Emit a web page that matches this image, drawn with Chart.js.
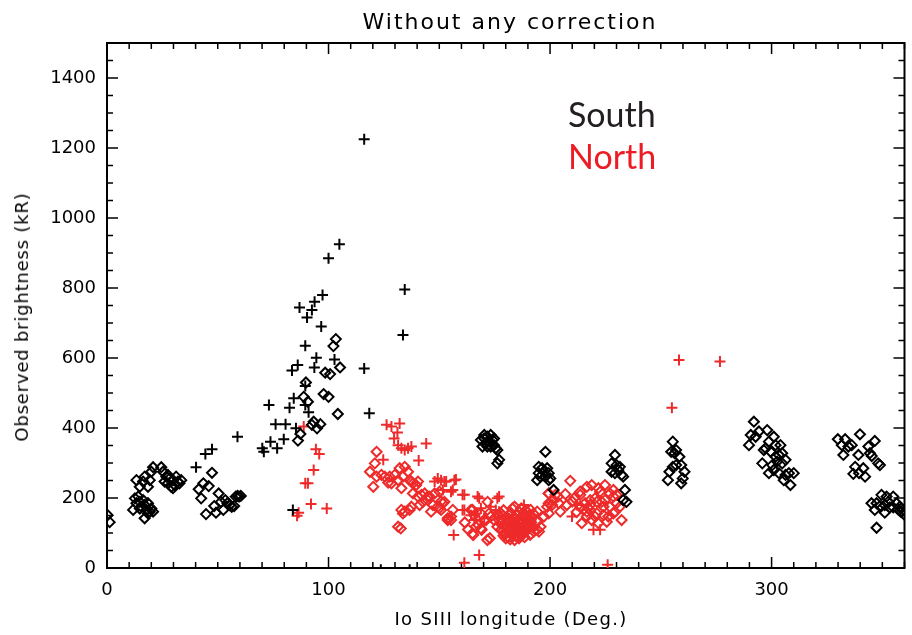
<!DOCTYPE html>
<html><head><meta charset="utf-8">
<script src="https://cdn.jsdelivr.net/npm/chart.js@4/dist/chart.umd.min.js"></script>
<style>
html,body{margin:0;padding:0;background:#fff;}
#wrap{position:relative;width:912px;height:635px;overflow:hidden;}
canvas{position:absolute;left:0;top:0;}
.t{position:absolute;white-space:nowrap;font-family:'DejaVu Sans',sans-serif;color:#000;line-height:1;}
.lg{position:absolute;white-space:nowrap;font-family:Lato,sans-serif;font-size:34px;line-height:34px;}
</style></head><body>
<div id="wrap">
<canvas id="c" width="912" height="635"></canvas>
<div class="t" id="title" style="left:510px;top:22px;transform:translate(-50%,-50%);font-size:22px;letter-spacing:2px;">Without any correction</div>
<div class="t" id="xt" style="left:511px;top:619px;transform:translate(-50%,-50%);font-size:18px;letter-spacing:1.3px;">Io SIII longitude (Deg.)</div>
<div class="t" id="yt" style="left:22px;top:317px;transform:translate(-50%,-50%) rotate(-90deg);font-size:18px;letter-spacing:0.8px;">Observed brightness (kR)</div>
<div class="lg" style="left:568px;top:97px;color:#231F20;">South</div>
<div class="lg" style="left:568px;top:139px;color:#ED1C24;">North</div>
</div>
<script>
// ---- data (Io SIII longitude [deg], observed brightness [kR]) ----
const xTickValues = [0, 100, 200, 300];
const yTickValues = [0, 200, 400, 600, 800, 1000, 1200, 1400];

const southPlus = [
[40.2,288],[44.4,326],[47.4,339],[58.9,375],[70.1,342],[70.8,332],[73.1,466],[73.8,361],[76.1,411],[76.8,342],
[79.8,368],[80.6,411],[82.4,458],[83.5,564],[84.3,485],[85.3,399],[86.1,580],[86.9,744],[89.5,635],[89.5,520],
[89.5,466],[90.3,716],[91,445],[92.5,737],[93.6,573],[93.7,761],[94.5,601],[96.7,690],[97.3,780],[100,885],
[102.7,596],[104.9,925],[116.1,1225],[116.1,570],[118.4,442],[133.6,666],[134.4,796],[83.9,166],[123.6,-5],[136.6,-5]
];

const southDiamond = [
[0.3,151],[1.2,131],
[13.3,251],[14.8,232],[16.3,247],[17,261],[18.5,232],[19.3,251],[20,275],[20.8,288],
[12.6,199],[13.3,185],[14.1,204],[14.8,189],[15.5,175],[16.3,194],[17,180],[17.8,166],[18.5,185],[19.3,161],
[20,170],[20.8,161],[11.8,166],[17,142],[18.5,156],[14.8,170],
[24.5,288],[25.3,275],[26,247],[26.8,261],[27.5,242],[28.3,256],[29,232],[29.8,251],[30.5,237],[31.2,261],
[32,247],[32.7,242],[33.5,251],[27.5,266],[29.8,228],
[47.4,272],[41.4,225],[42.5,199],[43.5,242],[45.9,234],[44.7,154],[48.4,177],[49.2,158],[50.4,213],[51.4,189],
[52.5,166],[53.4,194],[54.4,185],[55.4,180],[56.3,175],[57.4,177],[58.1,204],[58.9,206],[59.6,204],[60.4,206],
[103.3,654],[102.2,634],[105.2,573],[98.5,558],[100.7,554],[89.8,530],[97.8,497],[100,489],[88.8,489],[90.7,475],
[104.2,440],[93.3,418],[92.5,409],[96.3,411],[94.8,399],[87.3,383],[86.2,364],
[170.3,380],[171.7,375],[173.2,380],[174,366],[172.5,361],[171,356],[169.5,347],[168.8,366],[174.7,351],[175.5,342],
[176.2,337],[177,309],[176.2,299],[173.2,347],[171.7,347],[170.3,370],[174.7,370],
[197.9,332],[194.9,289],[196.4,285],[197.2,275],[198.7,285],[199.4,271],[197.9,261],[195.6,261],[194.2,251],[200.1,256],
[201.6,223],[199.4,251],[194.9,271],
[229.3,323],[227.8,299],[230,294],[231.5,289],[227.8,275],[229.3,271],[232.3,266],[233,261],[230.8,280],[233.8,223],
[234.5,189],[233,194],
[255.4,361],[254.7,332],[256.2,328],[256.9,337],[258.4,318],[256.9,294],[255.4,289],[259.2,294],[260.7,275],[253.9,275],
[253.2,251],[259.2,242],[259.9,256],
[292,418],[290.6,380],[289.8,351],[294.3,390],[292.8,375],[298,394],[298.8,361],[301,375],[296.5,337],[299.6,332],
[301.8,351],[304,351],[304.8,328],[303.3,323],[302.5,304],[300.3,294],[306.3,309],[301,280],[298.8,271],[303.3,271],
[306.3,266],[307.8,271],[310,271],[308.5,237],[305.5,251],[295.8,299],[297.3,342],[301.8,318],[304.8,299],
[329.9,368],[333.2,368],[331.7,351],[334.7,347],[336.2,351],[332.4,323],[339.2,323],[339.9,382],[343.7,347],[346.6,363],
[344.4,328],[345.2,320],[337.7,289],[341.4,285],[336.9,269],[342.2,261],[348.1,299],[348.9,294],[339.5,271],
[349.6,209],[351.9,204],[354.9,204],[345.1,185],[347.4,185],[348.9,177],[351.1,180],[352.6,189],[353.4,173],[356.4,185],
[357.9,175],[359.4,166],[346.6,166],[351.1,158],[354.9,173],[347.4,115],[358.5,160],[357,168],[360,152]
];

const northPlus = [
[88.8,404],[94.3,339],[95.8,326],[93.3,280],[89.5,242],[90.7,242],[92.1,183],[99.2,170],[86.5,158],[85.8,149],
[124.7,309],[126.2,409],[128.4,404],[132.1,413],[131.1,387],[129.6,370],[131.4,351],[132.9,342],[134.4,337],[135.9,342],
[137.4,347],[144.1,356],[140.7,307],[147.9,247],[149.3,256],[150.8,251],[152.3,247],[153.1,247],[156.8,251],[157.5,253],
[151.6,223],[156.1,223],[155.3,218],[160.5,209],[161.3,209],[167.3,204],[168,199],[176.2,199],[177,204],[160.5,166],
[161.3,166],[164.3,151],[166.5,156],[168.8,171],[170.3,142],[173.2,175],[175.5,166],[177,161],[188.2,180],[165.8,137],
[156.5,94],[168,37],[161.3,15],[183,140],[186,150],
[212.1,180],[209.9,147],[219.6,109],[222.6,109],[226,9],[255,458],[258.2,594],[276.7,590]
];

const northDiamond = [
[121.7,332],[120.9,299],[118.7,275],[120.2,232],[121.7,261],[123.9,266],[125.4,261],[127.6,261],[129.9,266],[132.1,285],
[134.4,289],[135.9,275],[128.4,242],[132.9,228],[131.4,251],[136.6,251],[138.1,242],[139.6,237],[126.9,244],[133.6,261],
[137.4,247],[140.4,247],
[138.1,213],[141.9,209],[144.8,204],[140.4,204],[143.4,213],[145.6,204],[147.9,213],[150.1,218],[152.3,189],[142.6,189],
[141.1,180],[137.4,175],[136.6,166],[134.4,161],[133.6,156],[132.9,166],[144.8,194],[147.1,180],[149.3,175],[151.6,185],
[146.3,161],[150.1,171],[153.8,137],[155.3,147],[156.1,166],[131.4,118],[132.6,113],
[150.8,190],[150.8,166],[153.8,142],[155.3,137],[164.3,166],[165.8,151],[168.8,156],[171.8,189],[171.1,137],[165.3,94],
[172.8,85],[169.1,109],[167.6,123],[177,137],[180,85],[161.5,130],[163,110],
[165,166],[166.5,118],[168.8,113],[170.3,137],[172.5,156],[173.2,147],[174.7,137],[176.2,118],[179.2,99],[182.2,99],
[185.2,89],[188.2,99],[191.2,137],[194.2,109],[197.2,147],[199.4,185],[201.6,194],[165,99],[171.7,80],
[192.7,104],[194.2,132],[194.2,161],[199.4,213],[191.2,166],[195.7,118],[188.2,123],
[176.5,150],[177.5,128],[178,110],[178.5,140],[179,165],[179.5,120],[180,100],[180.5,145],[181,130],[181,88],
[181.5,112],[182,155],[182,135],[182.5,100],[183,120],[183,170],[183.5,142],[184,108],[184,128],[184.5,92],
[185,150],[185,118],[185.5,135],[186,102],[186,160],[186.5,125],[187,140],[187,110],[187.5,95],[188,132],
[188,150],[188.5,118],[189,105],[189,165],[189.5,140],[190,125],[190,112],[190.5,150],[191,95],[191.5,130],
[192,118],[192,145],[184,80],[186,85],[182,82],[179,92],[187,170],[192.5,155],[178,155],[184,175],
[180.5,115],[182.5,125],[183.5,105],[185.5,110],[186.5,95],[187.5,130],[189.5,120],[181.5,140],[183,92],[188.5,88],
[209.1,249],[199.4,213],[206.9,211],[203.6,204],[207.6,180],[204.6,161],[195,104],[202.4,209],[203.9,185],[198.7,175],
[199.4,156],[200.9,180],
[213.6,218],[216.6,232],[218.8,237],[221.8,228],[224.8,237],[228.6,223],[230,209],[220.3,199],[224.8,194],[218.1,180],
[215.1,166],[216.6,147],[221.1,156],[224.1,175],[226.3,147],[228.6,156],[232.3,137],[221.8,128],[225.6,132],[214.3,128],
[218.8,137],[213.6,209],[222.6,218],[227,213],[228.6,204],[230,185],[231.5,175],[229.3,161],[224.1,151],[218.1,166],
[216.6,161],[215.8,185],[213.6,175],[217.3,171],[220.3,147],[227,175],[223.3,189],[221.1,189],[218.1,194],[211,200],
[212,160],[210,190]
];

const toXY = arr => arr.map(p => ({x: p[0], y: p[1]}));
const BLACK = '#000000', RED = '#EE2A2A';

const frame = {
  id: 'frame',
  beforeDatasetsDraw(chart) {
    const {ctx, chartArea: a, scales: {x, y}} = chart;
    ctx.save();
    ctx.strokeStyle = '#000';
    ctx.lineWidth = 1.5;
    ctx.beginPath();
    for (let v = 0; v <= 360; v += 10) {
      const px = x.getPixelForValue(v);
      const len = v % 100 === 0 ? 11 : 6;
      ctx.moveTo(px, a.bottom); ctx.lineTo(px, a.bottom - len);
      ctx.moveTo(px, a.top); ctx.lineTo(px, a.top + len);
    }
    for (let v = 0; v <= 1500; v += 50) {
      const py = y.getPixelForValue(v);
      const len = v % 200 === 0 ? 11 : 6;
      ctx.moveTo(a.left, py); ctx.lineTo(a.left + len, py);
      ctx.moveTo(a.right, py); ctx.lineTo(a.right - len, py);
    }
    ctx.stroke();
    ctx.lineWidth = 2;
    ctx.strokeRect(a.left, a.top, a.right - a.left, a.bottom - a.top);
    ctx.restore();
  }
};

const ds = (label, arr, style, color, r) => ({
  label, data: toXY(arr), pointStyle: style, pointRadius: r, pointHoverRadius: r,
  borderColor: color, backgroundColor: 'rgba(0,0,0,0)', pointBorderWidth: 2, borderWidth: 2,
  showLine: false, clip: 0
});

new Chart(document.getElementById('c'), {
  type: 'scatter',
  data: {
    datasets: [
      ds('South +', southPlus, 'cross', BLACK, 5.5),
      ds('South ◇', southDiamond, 'rectRot', BLACK, 5),
      ds('North +', northPlus, 'cross', RED, 5.5),
      ds('North ◇', northDiamond, 'rectRot', RED, 5)
    ]
  },
  options: {
    responsive: false, animation: false, devicePixelRatio: 1,
    layout: {padding: {top: 43, right: 2, left: 0, bottom: 0}},
    plugins: {legend: {display: false}, tooltip: {enabled: false}, title: {display: false}},
    scales: {
      x: {
        type: 'linear', min: 0, max: 360,
        grid: {display: false, drawTicks: false}, border: {display: false},
        afterBuildTicks: s => { s.ticks = xTickValues.map(v => ({value: v})); },
        afterFit: s => { s.height = 67; },
        ticks: {autoSkip: false, maxRotation: 0, padding: 12, color: '#000',
                font: {family: 'DejaVu Sans', size: 18}, callback: v => String(v)}
      },
      y: {
        type: 'linear', min: 0, max: 1500,
        grid: {display: false, drawTicks: false}, border: {display: false},
        afterBuildTicks: s => { s.ticks = yTickValues.map(v => ({value: v})); },
        afterFit: s => { s.width = 107; },
        ticks: {autoSkip: false, padding: 11, color: '#000',
                font: {family: 'DejaVu Sans', size: 18}, callback: v => String(v)}
      }
    }
  },
  plugins: [frame]
});
</script>
</body></html>
